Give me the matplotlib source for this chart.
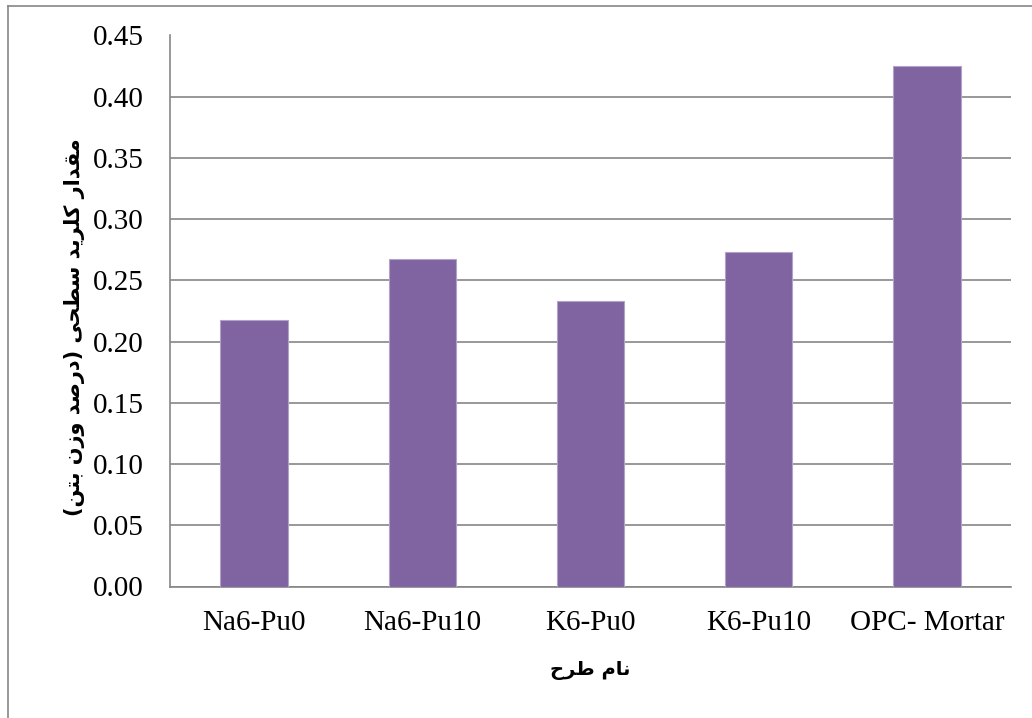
import matplotlib
matplotlib.use("Agg")
import matplotlib.pyplot as plt
from matplotlib.lines import Line2D

categories = ["Na6-Pu0", "Na6-Pu10", "K6-Pu0", "K6-Pu10", "OPC- Mortar"]
chloride = [0.2175, 0.2676, 0.2330, 0.2733, 0.4252]
yticks = [0.00, 0.05, 0.10, 0.15, 0.20, 0.25, 0.30, 0.35, 0.40, 0.45]
xlabel_fa = "نام طرح"
ylabel_fa = "مقدار کلرید سطحی (درصد وزن بتن)"

# presentation forms: (isolated, final, initial, medial); right-joining letters have only two
FORMS = {
    "ا": ("\uFE8D", "\uFE8E"),
    "د": ("\uFEA9", "\uFEAA"),
    "ر": ("\uFEAD", "\uFEAE"),
    "ز": ("\uFEAF", "\uFEB0"),
    "و": ("\uFEED", "\uFEEE"),
    "ب": ("\uFE8F", "\uFE90", "\uFE91", "\uFE92"),
    "ت": ("\uFE95", "\uFE96", "\uFE97", "\uFE98"),
    "ح": ("\uFEA1", "\uFEA2", "\uFEA3", "\uFEA4"),
    "س": ("\uFEB1", "\uFEB2", "\uFEB3", "\uFEB4"),
    "ص": ("\uFEB9", "\uFEBA", "\uFEBB", "\uFEBC"),
    "ط": ("\uFEC1", "\uFEC2", "\uFEC3", "\uFEC4"),
    "ق": ("\uFED5", "\uFED6", "\uFED7", "\uFED8"),
    "ل": ("\uFEDD", "\uFEDE", "\uFEDF", "\uFEE0"),
    "م": ("\uFEE1", "\uFEE2", "\uFEE3", "\uFEE4"),
    "ن": ("\uFEE5", "\uFEE6", "\uFEE7", "\uFEE8"),
    "ک": ("\uFB8E", "\uFB8F", "\uFB90", "\uFB91"),
    "ی": ("\uFBFC", "\uFBFD", "\uFBFE", "\uFBFF"),
}


def shape_fa(text):
    out = []
    for i, ch in enumerate(text):
        if ch not in FORMS:
            out.append(ch)
            continue
        prev = text[i - 1] if i > 0 else ""
        nxt = text[i + 1] if i + 1 < len(text) else ""
        joins_prev = prev in FORMS and len(FORMS[prev]) == 4
        joins_next = nxt in FORMS and len(FORMS[ch]) == 4
        f = FORMS[ch]
        if joins_prev and joins_next:
            out.append(f[3])
        elif joins_next:
            out.append(f[2])
        elif joins_prev:
            out.append(f[1])
        else:
            out.append(f[0])
    vis = "".join(reversed(out))
    return vis.translate(str.maketrans("()", ")("))


W, H = 1032, 718
fig = plt.figure(figsize=(W / 100, H / 100), dpi=100)
ax = fig.add_axes([170 / W, 1 - 586.5 / H, (1011 - 170) / W, (586.5 - 35.5) / H])

grey = "#868686"
x = range(len(categories))
ax.bar(x, chloride, width=0.4, color="#8064A2", edgecolor="#B3A2C7", linewidth=0.8, zorder=3)

ax.set_xlim(-0.5, len(categories) - 0.5)
ax.set_ylim(0, 0.45)
ax.set_yticks(yticks)
ax.set_yticklabels([f"{v:.2f}" for v in yticks])
ax.set_xticks(list(x))
ax.set_xticklabels(categories)
ax.yaxis.grid(True, color=grey, linewidth=1.2, zorder=0)
ax.set_axisbelow(True)
for s in ("top", "right"):
    ax.spines[s].set_visible(False)
for s in ("left", "bottom"):
    ax.spines[s].set_color(grey)
    ax.spines[s].set_linewidth(1.2)
ax.tick_params(axis="both", length=0, labelsize=21)
ax.tick_params(axis="y", pad=19)
ax.tick_params(axis="x", pad=17)
for lab in ax.get_xticklabels() + ax.get_yticklabels():
    lab.set_family("Liberation Serif")

ax.set_xlabel(shape_fa(xlabel_fa), family=["DejaVu Sans"], fontsize=14, fontweight="bold")
ax.xaxis.set_label_coords(0.5, -0.135)
ax.set_ylabel(shape_fa(ylabel_fa), family=["DejaVu Sans"], fontsize=15, fontweight="bold")
ax.yaxis.set_label_coords(-0.101, 0.47)

# chart area border
fig.add_artist(Line2D([7.5 / W, 7.5 / W], [0, 1 - 6 / H], color=grey, linewidth=1.2))
fig.add_artist(Line2D([7.5 / W, 1], [1 - 6 / H, 1 - 6 / H], color=grey, linewidth=1.2))

fig.savefig("out.png", dpi=100)
